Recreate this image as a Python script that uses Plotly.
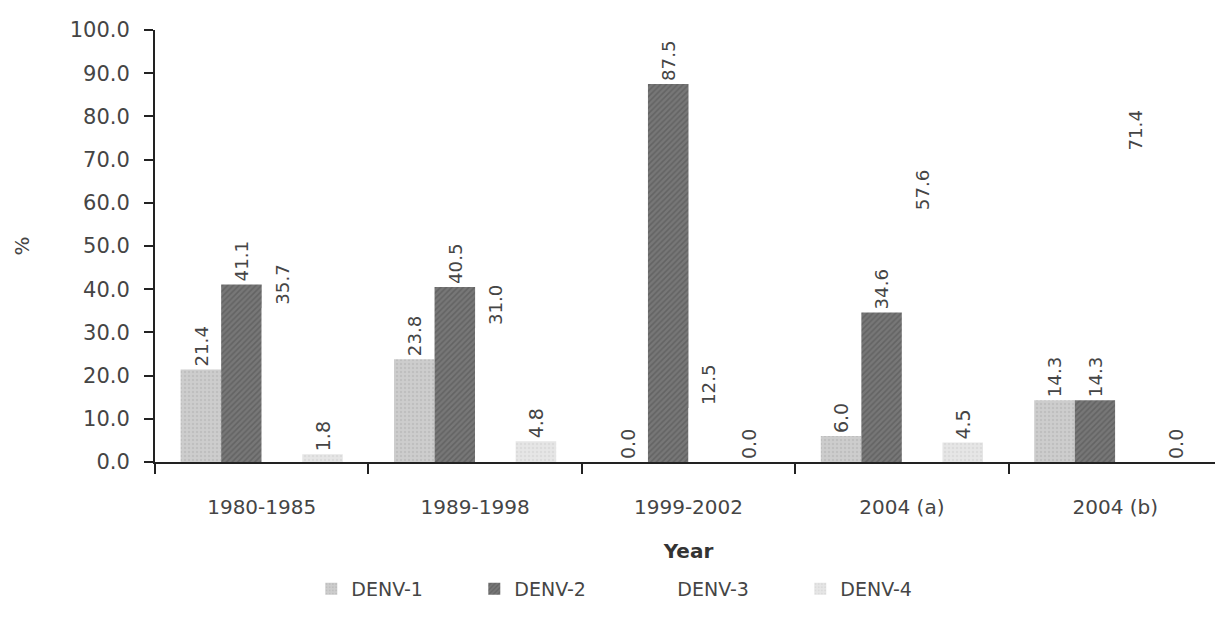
import plotly.graph_objects as go

categories = ["1980-1985", "1989-1998", "1999-2002", "2004 (a)", "2004 (b)"]
series_names = ["DENV-1", "DENV-2", "DENV-3", "DENV-4"]
denv1 = [21.4, 23.8, 0.0, 6.0, 14.3]
denv2 = [41.1, 40.5, 87.5, 34.6, 14.3]
denv3 = [35.7, 31.0, 12.5, 57.6, 71.4]
denv4 = [1.8, 4.8, 0.0, 4.5, 0.0]
y_ticks = [0, 10, 20, 30, 40, 50, 60, 70, 80, 90, 100]

values = [denv1, denv2, denv3, denv4]
styles = [
    dict(color="#c4c4c4", pattern=dict(shape=".", fgcolor="#b0b0b0", bgcolor="#cdcdcd", size=4, solidity=0.3)),
    dict(color="#666666", pattern=dict(shape="/", fgcolor="#505050", bgcolor="#777777", size=4, solidity=0.4)),
    dict(color="#ffffff"),
    dict(color="#e0e0e0", pattern=dict(shape=".", fgcolor="#d0d0d0", bgcolor="#e6e6e6", size=4, solidity=0.3)),
]

font_family = "DejaVu Sans, Liberation Sans, sans-serif"
text_color = "#454545"

fig = go.Figure()
for name, vals, st in zip(series_names, values, styles):
    fig.add_trace(go.Bar(
        name=name,
        x=categories,
        y=vals,
        text=[f"{v:.1f}" for v in vals],
        textposition="outside",
        textangle=-90,
        textfont=dict(family=font_family, size=19, color=text_color),
        marker=dict(color=st["color"], pattern=st.get("pattern"), line=dict(width=0)),
        cliponaxis=False,
    ))

fig.update_layout(
    width=1215, height=613,
    margin=dict(l=147, r=1, t=22, b=159),
    barmode="group",
    bargap=0.24,
    bargroupgap=0.0,
    plot_bgcolor="white",
    paper_bgcolor="white",
    font=dict(family=font_family, size=20, color=text_color),
    legend=dict(
        orientation="h",
        x=0.452, xanchor="center",
        y=-0.25, yanchor="top",
        font=dict(size=19, color=text_color),
        entrywidth=118, entrywidthmode="pixels",
        traceorder="normal",
    ),
)

fig.update_xaxes(
    title=dict(text="<b>Year</b>", font=dict(size=20, color="#333333"), standoff=26),
    showline=True, linecolor="#222222", linewidth=2,
    ticks="outside", tickson="boundaries", ticklen=10, tickwidth=2, tickcolor="#222222",
    ticklabelstandoff=26,
    showgrid=False,
    tickfont=dict(size=20, color=text_color),
)
fig.update_yaxes(
    title=dict(text="%", font=dict(size=20, color=text_color), standoff=35),
    range=[0, 100],
    tickvals=y_ticks,
    tickformat=".1f",
    showline=True, linecolor="#222222", linewidth=2,
    ticks="outside", ticklen=9, tickwidth=2, tickcolor="#222222",
    ticklabelstandoff=10,
    showgrid=False, zeroline=False,
    tickfont=dict(size=21, color=text_color),
)

fig.write_html("out.html")
